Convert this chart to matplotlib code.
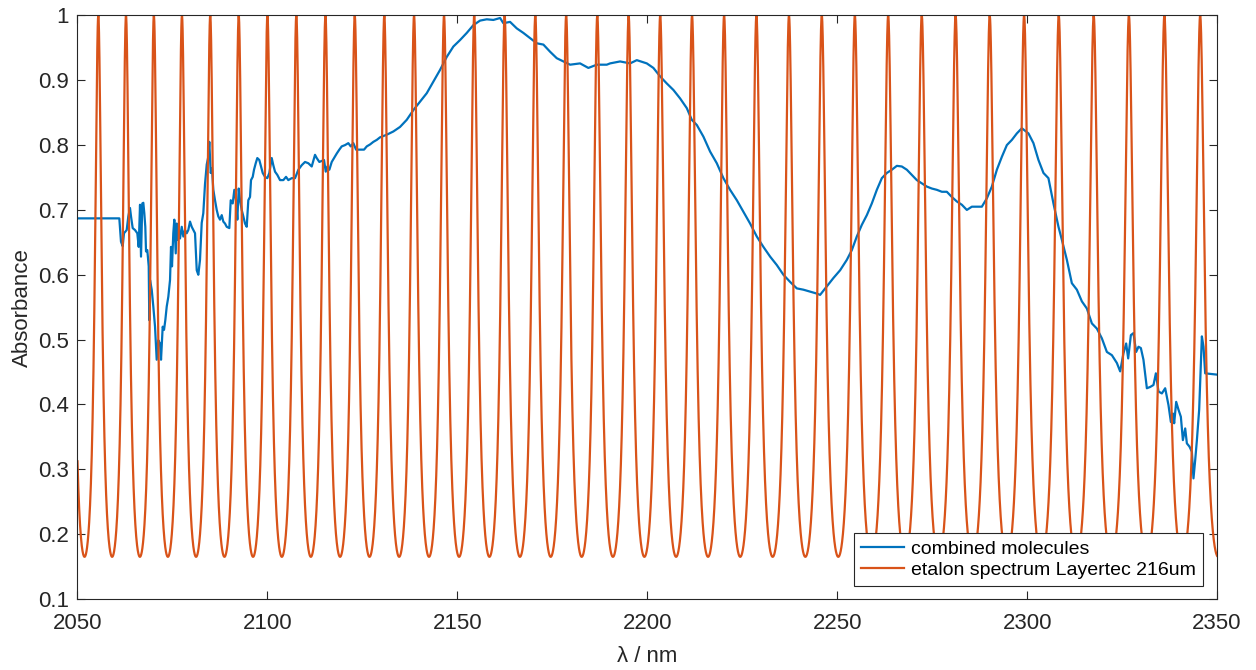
import numpy as np
import matplotlib
matplotlib.use("Agg")
import matplotlib.pyplot as plt

plt.rcParams['font.family'] = ['Liberation Sans', 'DejaVu Sans']

# ---- combined molecules absorbance ----
wl_mol = [2050.00, 2061.01, 2061.45, 2061.90, 2062.24, 2062.95, 2063.38, 2063.82, 2064.09, 2064.53,
          2065.14, 2065.75, 2066.11, 2066.46, 2066.72, 2067.06, 2067.33, 2067.59, 2067.85, 2068.04,
          2068.38, 2068.75, 2068.90, 2069.09, 2069.54, 2069.96, 2070.41, 2070.85, 2071.27, 2071.72,
          2071.99, 2072.43, 2072.78, 2073.12, 2073.49, 2073.91, 2074.36, 2074.62, 2074.88, 2075.22,
          2075.49, 2075.86, 2076.12, 2076.38, 2076.65, 2076.99, 2077.44, 2077.86, 2078.30, 2078.75,
          2079.17, 2079.62, 2080.07, 2080.49, 2080.94, 2081.39, 2081.81, 2082.25, 2082.70, 2083.12,
          2083.57, 2084.02, 2084.44, 2084.70, 2085.07, 2085.41, 2085.76, 2086.20, 2086.65, 2087.07,
          2087.52, 2087.97, 2088.39, 2088.84, 2089.28, 2089.97, 2090.34, 2090.86, 2091.29, 2091.73,
          2092.08, 2092.44, 2092.79, 2093.23, 2093.66, 2094.10, 2094.55, 2094.97, 2095.42, 2095.68,
          2096.13, 2096.47, 2096.92, 2097.34, 2097.87, 2098.32, 2098.76, 2099.37, 2099.97, 2100.50,
          2101.13, 2101.55, 2102.00, 2102.61, 2103.32, 2104.19, 2104.90, 2105.50, 2106.40, 2107.27,
          2108.14, 2109.03, 2109.90, 2110.77, 2111.66, 2112.53, 2112.98, 2113.67, 2114.90, 2115.35,
          2115.77, 2116.30, 2116.93, 2117.54, 2118.25, 2118.93, 2119.56, 2120.43, 2121.30, 2121.93,
          2122.62, 2123.33, 2124.38, 2125.44, 2126.15, 2127.02, 2127.89, 2128.78, 2129.65, 2131.41,
          2133.15, 2134.91, 2136.68, 2138.42, 2140.18, 2141.94, 2143.68, 2145.45, 2147.21, 2148.95,
          2150.71, 2152.48, 2154.21, 2155.98, 2157.74, 2159.48, 2161.25, 2162.11, 2163.88, 2165.64,
          2167.38, 2169.14, 2170.91, 2172.65, 2174.41, 2176.17, 2177.91, 2179.68, 2182.31, 2184.49,
          2186.71, 2189.34, 2190.21, 2192.84, 2195.47, 2197.24, 2199.87, 2201.61, 2203.37, 2205.14,
          2206.88, 2208.64, 2210.40, 2211.72, 2213.04, 2214.78, 2216.54, 2218.30, 2220.04, 2221.80,
          2223.57, 2225.31, 2227.07, 2228.83, 2230.57, 2232.34, 2234.10, 2235.84, 2237.60, 2239.37,
          2241.10, 2242.87, 2244.63, 2245.50, 2247.26, 2249.00, 2250.77, 2252.53, 2253.85, 2255.16,
          2256.48, 2257.80, 2259.11, 2260.43, 2261.75, 2263.06, 2264.38, 2265.70, 2267.01, 2268.33,
          2269.65, 2270.96, 2272.28, 2273.60, 2274.91, 2276.23, 2277.55, 2278.86, 2280.18, 2281.50,
          2282.81, 2284.13, 2285.45, 2286.76, 2288.08, 2289.40, 2290.71, 2292.03, 2293.35, 2294.66,
          2295.98, 2297.29, 2298.61, 2300.35, 2301.66, 2302.98, 2304.30, 2305.61, 2306.93, 2308.25,
          2309.14, 2310.46, 2311.77, 2313.09, 2314.41, 2315.72, 2317.04, 2318.36, 2319.67, 2320.99,
          2322.31, 2323.62, 2324.49, 2325.36, 2326.07, 2326.60, 2327.31, 2327.99, 2328.70, 2329.31,
          2329.94, 2330.62, 2331.52, 2332.39, 2333.26, 2333.89, 2334.58, 2335.47, 2336.34, 2337.21,
          2337.84, 2338.37, 2338.71, 2339.24, 2339.84, 2340.47, 2341.00, 2341.61, 2342.05, 2342.74,
          2343.37, 2343.79, 2344.24, 2344.69, 2345.29, 2346.00, 2346.43, 2346.87, 2350.00]
abs_mol = [0.687, 0.687, 0.651, 0.644, 0.664, 0.669, 0.690, 0.703, 0.690, 0.672,
           0.669, 0.664, 0.643, 0.708, 0.628, 0.710, 0.711, 0.695, 0.674, 0.636,
           0.638, 0.613, 0.530, 0.592, 0.577, 0.551, 0.520, 0.469, 0.499, 0.494,
           0.469, 0.520, 0.515, 0.530, 0.551, 0.566, 0.592, 0.643, 0.613, 0.664,
           0.685, 0.633, 0.679, 0.654, 0.669, 0.656, 0.674, 0.659, 0.669, 0.664,
           0.669, 0.682, 0.674, 0.669, 0.664, 0.607, 0.600, 0.623, 0.680, 0.695,
           0.740, 0.770, 0.782, 0.805, 0.757, 0.764, 0.731, 0.715, 0.700, 0.690,
           0.685, 0.692, 0.682, 0.679, 0.674, 0.672, 0.715, 0.710, 0.731, 0.715,
           0.685, 0.733, 0.715, 0.700, 0.690, 0.679, 0.674, 0.715, 0.720, 0.746,
           0.751, 0.762, 0.772, 0.780, 0.777, 0.767, 0.757, 0.751, 0.749, 0.757,
           0.780, 0.769, 0.759, 0.754, 0.746, 0.746, 0.751, 0.746, 0.749, 0.749,
           0.762, 0.769, 0.774, 0.772, 0.767, 0.785, 0.780, 0.774, 0.777, 0.759,
           0.767, 0.762, 0.774, 0.780, 0.787, 0.793, 0.798, 0.800, 0.803, 0.798,
           0.803, 0.793, 0.793, 0.793, 0.798, 0.801, 0.805, 0.808, 0.812, 0.816,
           0.821, 0.828, 0.839, 0.854, 0.867, 0.880, 0.898, 0.916, 0.936, 0.952,
           0.962, 0.973, 0.985, 0.992, 0.994, 0.993, 0.996, 0.988, 0.990, 0.980,
           0.973, 0.965, 0.957, 0.955, 0.944, 0.934, 0.929, 0.924, 0.926, 0.919,
           0.924, 0.924, 0.926, 0.929, 0.926, 0.931, 0.926, 0.919, 0.906, 0.895,
           0.885, 0.872, 0.857, 0.839, 0.831, 0.813, 0.790, 0.772, 0.749, 0.731,
           0.715, 0.697, 0.679, 0.659, 0.643, 0.628, 0.615, 0.600, 0.589, 0.579,
           0.577, 0.574, 0.571, 0.569, 0.582, 0.595, 0.607, 0.623, 0.638, 0.659,
           0.677, 0.692, 0.710, 0.731, 0.749, 0.757, 0.762, 0.768, 0.767, 0.762,
           0.754, 0.746, 0.741, 0.736, 0.733, 0.731, 0.728, 0.728, 0.720, 0.713,
           0.708, 0.700, 0.705, 0.705, 0.705, 0.718, 0.736, 0.762, 0.782, 0.800,
           0.808, 0.818, 0.826, 0.818, 0.803, 0.777, 0.757, 0.749, 0.710, 0.674,
           0.654, 0.623, 0.587, 0.577, 0.559, 0.548, 0.525, 0.517, 0.502, 0.481,
           0.476, 0.464, 0.451, 0.479, 0.494, 0.471, 0.507, 0.510, 0.481, 0.489,
           0.487, 0.469, 0.425, 0.427, 0.430, 0.448, 0.420, 0.417, 0.425, 0.399,
           0.373, 0.386, 0.371, 0.404, 0.392, 0.381, 0.345, 0.363, 0.340, 0.335,
           0.327, 0.286, 0.314, 0.345, 0.392, 0.505, 0.489, 0.448, 0.446]

# ---- etalon spectrum (peak positions) ----
etalon_peaks = [2055.5, 2062.8, 2070.1, 2077.5, 2084.9, 2092.4, 2100.0, 2107.6, 2115.3, 2123.0,
                2130.8, 2138.6, 2146.5, 2154.4, 2162.4, 2170.5, 2178.7, 2186.9, 2195.1, 2203.4,
                2211.8, 2220.2, 2228.7, 2237.3, 2245.9, 2254.6, 2263.4, 2272.3, 2281.2, 2290.2,
                2299.2, 2308.3, 2317.5, 2326.8, 2336.1, 2345.6]
etalon_max = 1.0
etalon_min = 0.165
etalon_coeff_F = 4.04

series_labels = ["combined molecules", "etalon spectrum Layertec 216um"]
x_ticks = [2050, 2100, 2150, 2200, 2250, 2300, 2350]
y_ticks = [0.1, 0.2, 0.3, 0.4, 0.5, 0.6, 0.7, 0.8, 0.9, 1.0]
y_tick_labels = ['0.1', '0.2', '0.3', '0.4', '0.5', '0.6', '0.7', '0.8', '0.9', '1']

# Build etalon curve: peak order as function of wavenumber, Airy-type shape
wl_grid = np.linspace(2050, 2350, 8000)
nu_peaks = 1.0 / np.array(etalon_peaks)
order = np.arange(len(etalon_peaks))
slope, icpt = np.polyfit(nu_peaks, order, 1)
phase = np.pi * (slope / wl_grid + icpt)
airy = 1.0 / (1.0 + etalon_coeff_F * np.sin(phase) ** 2)
amin = 1.0 / (1.0 + etalon_coeff_F)
etalon = etalon_min + (etalon_max - etalon_min) * (airy - amin) / (1.0 - amin)

# ---- figure ----
fig = plt.figure(figsize=(12.56, 6.70), dpi=100)
ax = fig.add_axes([0.0617, 0.106, 0.9073, 0.871])

blue = '#0072BD'
orange = '#D95319'
axcol = '#262626'

ax.plot(wl_mol, abs_mol, color=blue, lw=1.6, label=series_labels[0])
ax.plot(wl_grid, etalon, color=orange, lw=1.6, label=series_labels[1])

ax.set_xlim(2050, 2350)
ax.set_ylim(0.1, 1.0)
ax.set_xticks(x_ticks)
ax.set_yticks(y_ticks)
ax.set_yticklabels(y_tick_labels)
ax.tick_params(direction='in', top=True, right=True, length=6, width=0.8,
               colors=axcol, labelsize=16)
ax.tick_params(axis='x', pad=10)
ax.tick_params(axis='y', pad=6)
for s in ax.spines.values():
    s.set_color(axcol)
    s.set_linewidth(0.8)

ax.set_xlabel('λ / nm', fontsize=16, color=axcol, labelpad=9)
ax.set_ylabel('Absorbance', fontsize=16, color=axcol, labelpad=4)

leg = ax.legend(loc='lower right', bbox_to_anchor=(0.9877, 0.0223), fontsize=14,
                frameon=True, fancybox=False, edgecolor=axcol, framealpha=1,
                handlelength=2.2, handletextpad=0.4, borderpad=0.35,
                labelspacing=0.2, borderaxespad=0.0)
leg.get_frame().set_linewidth(0.8)
for t in leg.get_texts():
    t.set_color('black')

fig.savefig('out.png', dpi=100)
